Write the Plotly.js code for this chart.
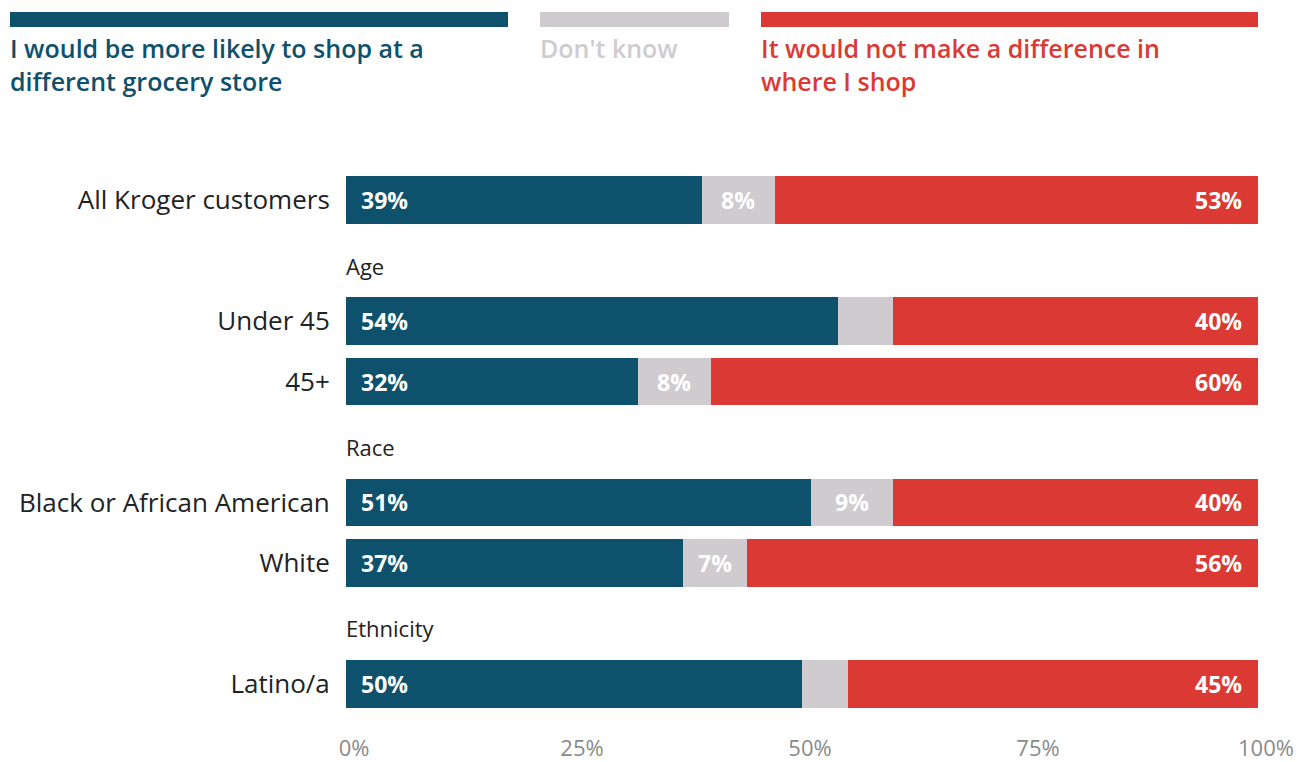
<!DOCTYPE html>
<html><head><meta charset="utf-8">
<script src="https://cdn.plot.ly/plotly-3.0.1.min.js"></script>
<style>html,body{margin:0;padding:0;background:#fff}</style>
</head><body><div id="chart" style="width:1301px;height:762px"></div>
<script>
// ---- data ----
const groups = ['All Kroger customers', 'Under 45', '45+', 'Black or African American', 'White', 'Latino/a'];
const groupRow = [0, 2, 3, 5, 6, 8];           // row slot of each group
const headers = ['Age', 'Race', 'Ethnicity'];
const headerRow = [1, 4, 7];
const moreLikely = [39, 54, 32, 51, 37, 50];
const dontKnow   = [8, 6, 8, 9, 7, 5];
const noDiff     = [53, 40, 60, 40, 56, 45];
const showDK     = [true, false, true, true, true, false];
const seriesNames = ['I would be more likely to shop at a<br>different grocery store', "Don't know", 'It would not make a difference in<br>where I shop'];
const tickVals = [0, 25, 50, 75, 100];
const tickText = ['0%', '25%', '50%', '75%', '100%'];

const BLUE = '#0e516d', GRAY = '#d0cbcf', RED = '#db3a34';
const FONT = '"Open Sans", sans-serif';

const mk = (vals, color, name) => ({
  type: 'bar', orientation: 'h', x: vals, y: groupRow, name: name,
  marker: {color: color, line: {width: 0}}, width: 0.79, hoverinfo: 'x+y'
});
const traces = [mk(moreLikely, BLUE, seriesNames[0]), mk(dontKnow, GRAY, seriesNames[1]), mk(noDiff, RED, seriesNames[2])];

const ann = [];
const lblFont = {family: FONT, size: 23, color: '#fff', weight: 700};
groups.forEach((g, i) => {
  const y = groupRow[i];
  ann.push({x: 0, y: y, xref: 'x', yref: 'y', text: moreLikely[i] + '%', showarrow: false, xanchor: 'left', xshift: 13, font: lblFont});
  if (showDK[i]) ann.push({x: moreLikely[i] + dontKnow[i] / 2, y: y, xref: 'x', yref: 'y', text: dontKnow[i] + '%', showarrow: false, xanchor: 'center', font: lblFont});
  ann.push({x: moreLikely[i] + dontKnow[i] + noDiff[i], y: y, xref: 'x', yref: 'y', text: noDiff[i] + '%', showarrow: false, xanchor: 'right', xshift: -14, font: lblFont});
});
headers.forEach((h, i) => {
  ann.push({x: 0, y: headerRow[i], xref: 'paper', yref: 'y', text: h, showarrow: false, xanchor: 'left', xshift: -2, yshift: -5, font: {family: FONT, size: 22, color: '#222'}});
});

// legend (manual, top)
const pw = 912, l0 = 346, ph = 544, t0 = 170;
const px = v => (v - l0) / pw;
const py = v => 1 + (t0 - v) / ph;
const legendItems = [
  {x0: 10, x1: 508, color: BLUE, text: seriesNames[0]},
  {x0: 540, x1: 729, color: GRAY, text: seriesNames[1]},
  {x0: 761, x1: 1258, color: RED, text: seriesNames[2]}
];
const shapes = [];
legendItems.forEach(it => {
  shapes.push({type: 'rect', xref: 'paper', yref: 'paper', x0: px(it.x0), x1: px(it.x1), y0: py(27), y1: py(12), fillcolor: it.color, line: {width: 0}});
  ann.push({x: px(it.x0), y: py(29), xref: 'paper', yref: 'paper', text: it.text, showarrow: false, xanchor: 'left', yanchor: 'top', align: 'left', xshift: -2, font: {family: FONT, size: 25, color: it.color, weight: 600}});
});

const layout = {
  width: 1301, height: 762,
  margin: {l: 346, r: 43, t: 170, b: 48},
  barmode: 'stack', showlegend: false, bargap: 0,
  paper_bgcolor: '#fff', plot_bgcolor: '#fff',
  font: {family: FONT, color: '#222'},
  xaxis: {range: [0, 100], tickvals: tickVals, ticktext: tickText, showgrid: false, zeroline: false,
          ticks: 'outside', ticklen: 15, tickcolor: 'rgba(0,0,0,0)', ticklabelshift: 8,
          tickfont: {family: FONT, size: 22, color: '#8a8a8a'}, fixedrange: true},
  yaxis: {range: [8.5, -0.5], tickvals: groupRow, ticktext: groups, showgrid: false, zeroline: false,
          ticks: 'outside', ticklen: 10, tickcolor: 'rgba(0,0,0,0)',
          tickfont: {family: FONT, size: 26, color: '#222'}, fixedrange: true},
  annotations: ann, shapes: shapes
};
Plotly.newPlot('chart', traces, layout, {displayModeBar: false, staticPlot: true});
</script></body></html>
